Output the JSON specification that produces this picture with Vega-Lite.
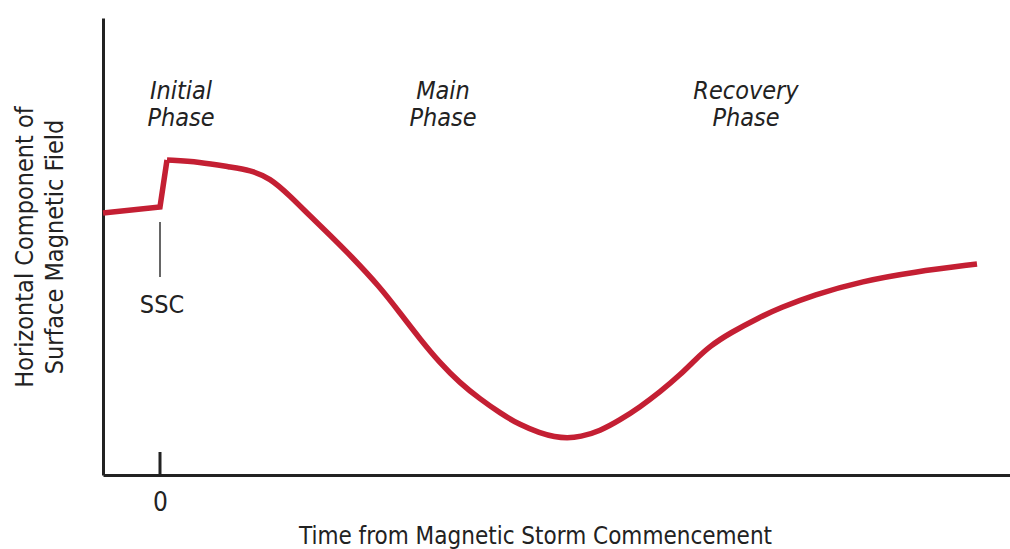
{
  "$schema": "https://vega.github.io/schema/vega-lite/v6.json",
  "width": 907,
  "height": 457,
  "autosize": "none",
  "padding": {"left": 103, "top": 18, "right": 0, "bottom": 74},
  "background": "white",
  "config": {
    "view": {"stroke": null},
    "font": "DejaVu Sans Condensed",
    "axis": {"domainColor": "#222222", "domainWidth": 3, "grid": false, "labelFont": "DejaVu Sans Condensed", "titleFont": "DejaVu Sans Condensed", "labelColor": "#222222", "titleColor": "#222222", "titleFontWeight": "normal"}
  },
  "datasets": {
    "pre": [
      {"t": -5.7, "h": 26.2}, {"t": 0.0, "h": 26.8}, {"t": 0.7, "h": 31.5}
    ],
    "curve": [
      {"t": 0.7, "h": 31.5}, {"t": 4.0, "h": 31.3}, {"t": 7.0, "h": 30.8},
      {"t": 9.0, "h": 30.5}, {"t": 11.0, "h": 29.7}, {"t": 13.0, "h": 27.9},
      {"t": 15.0, "h": 25.9}, {"t": 17.0, "h": 24.0}, {"t": 19.0, "h": 22.0},
      {"t": 22.0, "h": 18.8}, {"t": 24.0, "h": 16.2}, {"t": 26.0, "h": 13.6},
      {"t": 28.0, "h": 11.2}, {"t": 30.0, "h": 9.2}, {"t": 32.0, "h": 7.6},
      {"t": 34.0, "h": 6.2}, {"t": 36.0, "h": 5.0}, {"t": 38.0, "h": 4.2},
      {"t": 39.5, "h": 3.8}, {"t": 40.7, "h": 3.7}, {"t": 42.0, "h": 3.8},
      {"t": 44.0, "h": 4.4}, {"t": 46.0, "h": 5.5}, {"t": 48.0, "h": 6.8},
      {"t": 50.0, "h": 8.3}, {"t": 52.0, "h": 10.0}, {"t": 53.5, "h": 11.5},
      {"t": 55.0, "h": 12.9}, {"t": 57.0, "h": 14.2}, {"t": 60.0, "h": 15.8},
      {"t": 62.0, "h": 16.7}, {"t": 65.3, "h": 18.0}, {"t": 70.3, "h": 19.4},
      {"t": 75.3, "h": 20.3}, {"t": 81.7, "h": 21.1}
    ],
    "sscline": [{"t": 0, "h1": 19.8, "h2": 25.3}],
    "zerotick": [{"t": 0, "h1": 0, "h2": 2.3}],
    "phases": [
      {"t": 2.1, "h": 37.6, "label": ["Initial", "Phase"]},
      {"t": 28.3, "h": 37.6, "label": ["Main", "Phase"]},
      {"t": 58.6, "h": 37.6, "label": ["Recovery", "Phase"]}
    ],
    "ssc": [{"t": 0.2, "h": 16.2, "label": "SSC"}]
  },
  "layer": [
    {
      "data": {"name": "curve"},
      "mark": {"type": "line", "color": "#c41f33", "strokeWidth": 5.5, "interpolate": "basis", "strokeCap": "butt"},
      "encoding": {
        "x": {"field": "t", "type": "quantitative", "scale": {"domain": [-5.7, 85], "nice": false, "zero": false},
          "axis": {"values": [0], "ticks": false, "labelFontSize": 26, "labelPadding": 14, "title": "Time from Magnetic Storm Commencement", "titleFontSize": 24, "titleX": 432, "titleY": 68, "titleBaseline": "alphabetic", "titleAlign": "center"}},
        "y": {"field": "h", "type": "quantitative", "scale": {"domain": [0, 45.7], "nice": false, "zero": false},
          "axis": {"labels": false, "ticks": false, "title": ["Horizontal Component of", "Surface Magnetic Field"], "titleFontSize": 25, "titleLineHeight": 30, "titlePadding": 36}}
      }
    },
    {
      "data": {"name": "pre"},
      "mark": {"type": "line", "color": "#c41f33", "strokeWidth": 5.5, "interpolate": "linear", "strokeCap": "butt", "strokeJoin": "miter"},
      "encoding": {
        "x": {"field": "t", "type": "quantitative"},
        "y": {"field": "h", "type": "quantitative"}
      }
    },
    {
      "data": {"name": "sscline"},
      "mark": {"type": "rule", "color": "#333333", "strokeWidth": 1.5},
      "encoding": {
        "x": {"field": "t", "type": "quantitative"},
        "y": {"field": "h1", "type": "quantitative"},
        "y2": {"field": "h2"}
      }
    },
    {
      "data": {"name": "zerotick"},
      "mark": {"type": "rule", "color": "#222222", "strokeWidth": 3},
      "encoding": {
        "x": {"field": "t", "type": "quantitative"},
        "y": {"field": "h1", "type": "quantitative"},
        "y2": {"field": "h2"}
      }
    },
    {
      "data": {"name": "phases"},
      "mark": {"type": "text", "font": "DejaVu Sans Condensed", "fontStyle": "italic", "fontSize": 25, "lineHeight": 27, "align": "center", "baseline": "alphabetic", "color": "#222222"},
      "encoding": {
        "x": {"field": "t", "type": "quantitative"},
        "y": {"field": "h", "type": "quantitative"},
        "text": {"field": "label"}
      }
    },
    {
      "data": {"name": "ssc"},
      "mark": {"type": "text", "font": "DejaVu Sans Condensed", "fontSize": 25, "align": "center", "baseline": "alphabetic", "color": "#222222"},
      "encoding": {
        "x": {"field": "t", "type": "quantitative"},
        "y": {"field": "h", "type": "quantitative"},
        "text": {"field": "label"}
      }
    }
  ]
}
